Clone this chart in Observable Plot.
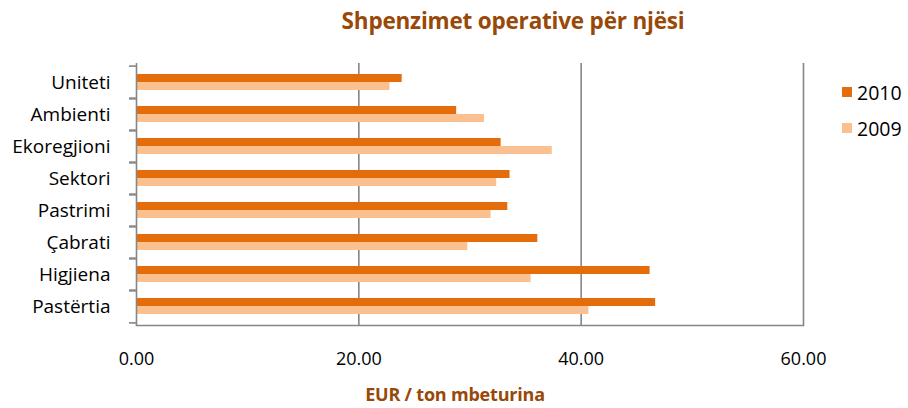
<!DOCTYPE html>
<html><head><meta charset="utf-8">
<script src="https://cdn.jsdelivr.net/npm/d3@7"></script>
<script src="https://cdn.jsdelivr.net/npm/@observablehq/plot@0.6"></script>
<style>
body{margin:0;background:#fff;}
#wrap{position:relative;width:908px;height:408px;font-family:"Open Sans",sans-serif;overflow:hidden;}
#chart{position:absolute;left:0;top:0;}
#title{position:absolute;left:263px;top:5px;width:500px;text-align:center;font-family:"Open Sans",sans-serif;font-weight:700;font-size:22.5px;color:#984807;white-space:nowrap;letter-spacing:-0.2px;}
#xlabel{position:absolute;left:255px;width:400px;top:382px;text-align:center;font-family:"Open Sans",sans-serif;font-weight:700;font-size:18px;color:#984807;white-space:nowrap;letter-spacing:-0.2px;}
#legend{position:absolute;left:842px;top:78px;font-size:19.5px;color:#000;}
.li{display:flex;align-items:center;height:28px;margin-bottom:8px;}
.sw{width:10px;height:10px;margin-right:5px;}
</style></head>
<body><div id="wrap"><div id="chart"></div><div id="title">Shpenzimet operative për njësi</div><div id="xlabel">EUR / ton mbeturina</div><div id="legend"></div></div>
<script>
const categories = ["Uniteti","Ambienti","Ekoregjioni","Sektori","Pastrimi","Çabrati","Higjiena","Pastërtia"];
const values2010 = [23.9,28.8,32.8,33.6,33.4,36.1,46.2,46.7];
const values2009 = [22.8,31.3,37.4,32.4,31.9,29.8,35.5,40.7];
const xTicks = [0,20,40,60];
const seriesNames = ["2010","2009"];
const seriesColors = ["#E46C0A","#FAC090"];

const d2010 = categories.map((c,i)=>({cat:c, year:seriesNames[0], v:values2010[i]}));
const d2009 = categories.map((c,i)=>({cat:c, year:seriesNames[1], v:values2009[i]}));
const half = 262/8/2;

const chart = Plot.plot({
  width:908, height:408,
  marginLeft:136, marginRight:105, marginTop:63, marginBottom:83,
  style:{fontFamily:"'Open Sans',sans-serif", fontSize:"16px", color:"#000", background:"transparent"},
  x:{domain:[0,60], ticks:xTicks},
  y:{domain:categories, paddingInner:0.51, paddingOuter:0.255},
  color:{domain:seriesNames, range:seriesColors},
  marks:[
    Plot.ruleX(xTicks.filter(d=>d>0), {stroke:"#868686", strokeWidth:1.6}),
    Plot.barX(d2010, {x:"v", y:"cat", fill:"year", insetBottom:8}),
    Plot.barX(d2009, {x:"v", y:"cat", fill:"year", insetTop:8}),
    Plot.ruleX([0], {stroke:"#868686", strokeWidth:1.6}),
    Plot.frame({anchor:"bottom", stroke:"#868686", strokeWidth:1.6}),
    Plot.axisX({ticks:xTicks, tickFormat:d=>d.toFixed(2), tickSize:0, tickPadding:27, label:null, fill:"#000", fontSize:18}),
    Plot.axisY({tickSize:0, tickPadding:26, label:null, fill:"#000", fontSize:19}),
    Plot.axisY({tickSize:7, tickFormat:()=>"", label:null, dy:-half, stroke:"#868686", strokeWidth:1.6}),
    Plot.axisY({tickSize:7, tickFormat:()=>"", label:null, dy:half, stroke:"#868686", strokeWidth:1.6})
  ]
});
document.getElementById("chart").appendChild(chart);

const legend = document.getElementById("legend");
seriesNames.forEach((n,i)=>{
  const row = document.createElement("div"); row.className="li";
  const sw = document.createElement("div"); sw.className="sw"; sw.style.background=seriesColors[i];
  const t = document.createElement("span"); t.textContent=n;
  row.appendChild(sw); row.appendChild(t); legend.appendChild(row);
});
</script>
</body></html>
